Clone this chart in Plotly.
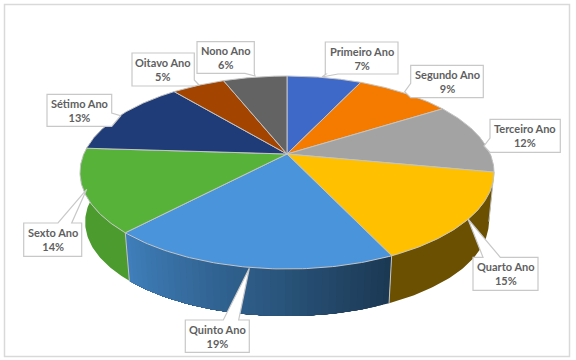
import numpy as np
import plotly.graph_objects as go

categories = ["Primeiro Ano", "Segundo Ano", "Terceiro Ano", "Quarto Ano", "Quinto Ano",
              "Sexto Ano", "Sétimo Ano", "Oitavo Ano", "Nono Ano"]
values = [7, 9, 12, 15, 19, 14, 13, 5, 6]

top_colors = ["#3F69C8", "#F57B00", "#A3A3A3", "#FFC000", "#4A94DC", "#57B23A", "#1F3C78", "#A34400", "#636363"]
wall_start = ["#2A4A8A", "#A85400", "#6E6E6E", "#6A5000", "#1B3852", "#4C9B2F", "#16294F", "#6E2E00", "#444444"]
wall_end = ["#2A4A8A", "#A85400", "#6E6E6E", "#6A5000", "#3F7FBB", "#4C9B2F", "#16294F", "#6E2E00", "#444444"]

# callout: box x0, y0, x1, y1, side carrying the tail, tail base a, tail base b, tip x, tip y
callouts = [
    (325.3, 42, 398, 74, "bottom", 338, 326, 322, 77),
    (410.7, 65.3, 483.3, 97.7, "left", 97.7, 83.3, 404.7, 91.7),
    (490, 119.3, 560.3, 152.3, "left", 152.3, 138, 484, 146),
    (473, 257.3, 538, 290.3, "top", 483, 500.3, 468, 219),
    (185.3, 320, 249.3, 352.3, "top", 223.3, 238.7, 249.3, 268.3),
    (23.7, 223, 81.7, 256.3, "top", 58, 71.7, 86.7, 189.3),
    (47, 94.3, 111.7, 126.3, "right", 113, 126.3, 120.7, 115.7),
    (132, 53, 194.3, 86, "right", 80, 86, 199, 85),
    (197, 41.7, 254.3, 73.3, "bottom", 254.3, 245, 255, 76),
]

CX, CY, A, B, K = 287, 154, 92.95, 203.2, 0.1917
DEPTH, SHRINK = 50, 0.975
SEAM = "#C4C4C4"


def project(theta, bottom=False):
    u, v = np.sin(theta), np.cos(theta)
    x = B * u / (1 + K * v)
    y = -A * v / (1 + K * v)
    if bottom:
        return CX + SHRINK * x, CY + DEPTH + SHRINK * y
    return CX + x, CY + y


def mix(c0, c1, t):
    a = [int(c0[i:i + 2], 16) for i in (1, 3, 5)]
    b = [int(c1[i:i + 2], 16) for i in (1, 3, 5)]
    return "rgb({},{},{})".format(*[round(p + (q - p) * t) for p, q in zip(a, b)])


def poly(x, y, fill, line, width):
    return go.Scatter(x=list(x), y=list(y), mode="lines", fill="toself", fillcolor=fill,
                      line=dict(color=line, width=width), hoverinfo="skip", showlegend=False)


fig = go.Figure()
edges = np.cumsum([0] + values) / sum(values) * 2 * np.pi

# side wall: painted as overlapping pieces, so that a shaded slice carries its gradient without seams
for i in range(len(values)):
    t0, t1 = edges[i], edges[i + 1]
    n = 40 if wall_start[i] != wall_end[i] else 1
    steps = np.linspace(t0, t1, n + 1)
    for j in range(n):
        ring = np.linspace(steps[j], t1, 60)
        ring = ring[np.cos(ring) < 0.3]
        if len(ring) < 2:
            continue
        xt, yt = project(ring)
        xb, yb = project(ring[::-1], bottom=True)
        c = mix(wall_start[i], wall_end[i], (j + 0.5) / n)
        fig.add_trace(poly(np.r_[xt, xb, xt[0]], np.r_[yt, yb, yt[0]], c, c, 0))
for i in range(len(values) - 1):
    t1 = edges[i + 1]
    if np.cos(t1) < 0.1:
        xt, yt = project(np.array([t1]))
        xb, yb = project(np.array([t1]), bottom=True)
        fig.add_trace(go.Scatter(x=[xt[0], xb[0]], y=[yt[0], yb[0]], mode="lines",
                                 line=dict(color=SEAM, width=1), hoverinfo="skip", showlegend=False))

# top face
for i in range(len(values)):
    ring = np.linspace(edges[i], edges[i + 1], 80)
    x, y = project(ring)
    fig.add_trace(poly(np.r_[CX, x, CX], np.r_[CY, y, CY], top_colors[i], SEAM, 1))

shapes = [dict(type="rect", x0=4.5, y0=4.5, x1=569.5, y1=356.5, line=dict(color="#D9D9D9", width=1.5),
               fillcolor="rgba(0,0,0,0)", layer="below")]
annotations = []
for name, val, c in zip(categories, values, callouts):
    x0, y0, x1, y1, side, a, b, tx, ty = c
    pts = [(x0, y0)]
    if side == "top":
        pts += [(a, y0), (tx, ty), (b, y0)]
    pts.append((x1, y0))
    if side == "right":
        pts += [(x1, a), (tx, ty), (x1, b)]
    pts.append((x1, y1))
    if side == "bottom":
        pts += [(a, y1), (tx, ty), (b, y1)]
    pts.append((x0, y1))
    if side == "left":
        pts += [(x0, a), (tx, ty), (x0, b)]
    path = "M" + " L".join(f"{px},{py}" for px, py in pts) + " Z"
    shapes.append(dict(type="path", path=path, fillcolor="white", line=dict(color="#C8C8C8", width=1.2), layer="above"))
    annotations.append(dict(x=(x0 + x1) / 2, y=(y0 + y1) / 2, text=f"<b>{name}</b><br><b>{val}%</b>", showarrow=False,
                            xanchor="center", yanchor="middle",
                            font=dict(family="Lato", size=11, color="#5F5F5F")))

fig.update_layout(width=576, height=360, margin=dict(l=0, r=0, t=0, b=0), paper_bgcolor="white",
                  plot_bgcolor="white", showlegend=False, shapes=shapes, annotations=annotations,
                  xaxis=dict(range=[0, 576], visible=False, fixedrange=True),
                  yaxis=dict(range=[360, 0], visible=False, fixedrange=True))
fig.write_html("out.html", config=dict(displayModeBar=False),
               post_script="document.body.style.margin='0';document.documentElement.style.overflow='hidden';")
